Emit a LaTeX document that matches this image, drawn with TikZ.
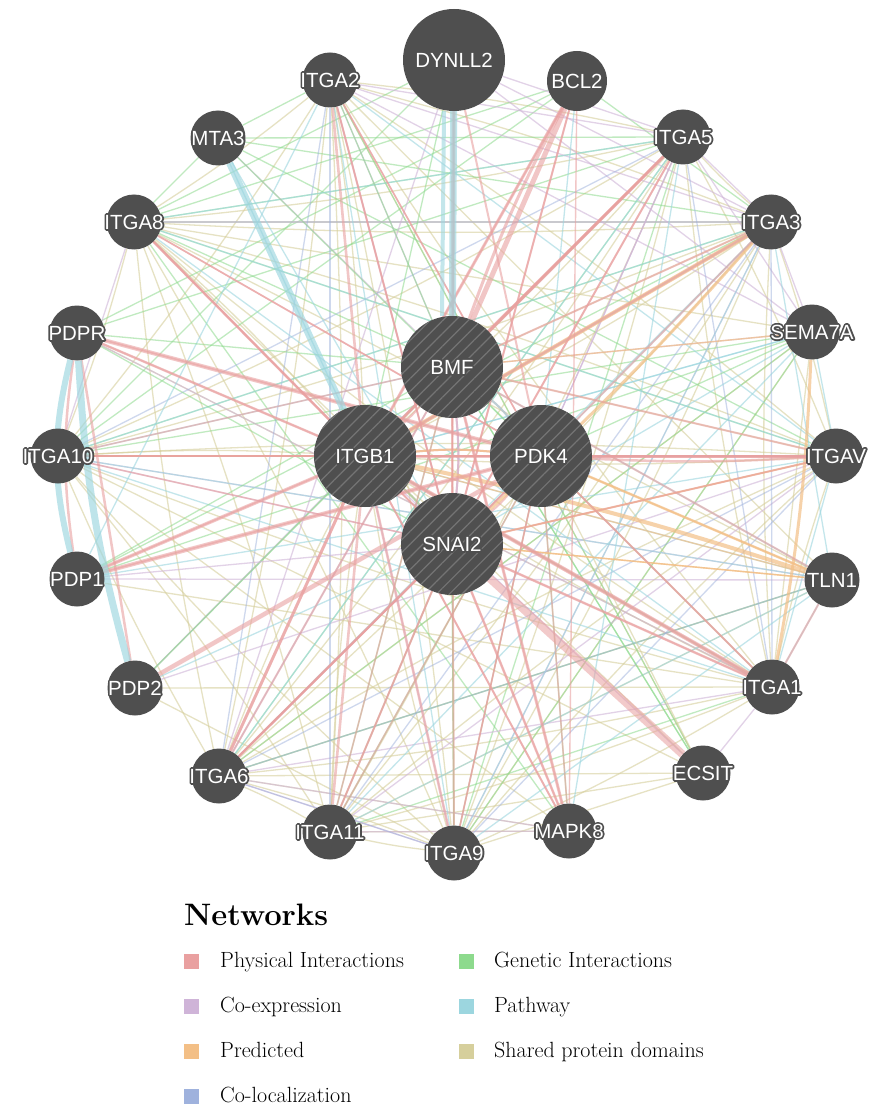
\documentclass[tikz,border=0pt]{standalone}
\usepackage{fontspec}
\newfontfamily\labfont{Liberation Sans}
\usetikzlibrary{patterns.meta}
\definecolor{nodegray}{HTML}{4F4F4F}
\definecolor{hatchgray}{HTML}{747474}
\definecolor{cPhys}{HTML}{E9A0A0}
\definecolor{cCoexp}{HTML}{CFB4D8}
\definecolor{cPred}{HTML}{F3BF86}
\definecolor{cColoc}{HTML}{9FB2DD}
\definecolor{cGen}{HTML}{8DDA8D}
\definecolor{cPath}{HTML}{9CD6DF}
\definecolor{cShared}{HTML}{D6CF9C}
\newcommand\glabel[1]{\makebox[0pt]{\rlap{\color{nodegray}\special{pdf:literal direct 1 Tr 3.5 w 1 j}#1\special{pdf:literal direct 0 Tr 1 w 0 j}}\color{white}#1}}
\pgfdeclarelayer{bglayer}
\pgfdeclarelayer{edgelayer}
\pgfsetlayers{bglayer,edgelayer,main}
\tikzset{
  gene/.style={circle, fill=nodegray, minimum size=55pt, inner sep=0pt, font=\labfont\fontsize{20.5}{20.5}\selectfont},
  biggene/.style={gene, minimum size=102pt},
  query/.style={biggene, postaction={pattern={Lines[angle=45,distance=9pt,line width=1.2pt]}, pattern color=hatchgray}},
  lw/.style={line width=#1},
  phys/.style={draw=cPhys, draw opacity=.6, line width=1.6pt},
  coexp/.style={draw=cCoexp, draw opacity=.6, line width=1.3pt},
  pred/.style={draw=cPred, draw opacity=.7, line width=1.4pt},
  coloc/.style={draw=cColoc, draw opacity=.5, line width=1.3pt},
  genet/.style={draw=cGen, draw opacity=.55, line width=1.3pt},
  pathw/.style={draw=cPath, draw opacity=.6, line width=1.3pt},
  shared/.style={draw=cShared, draw opacity=.6, line width=1.3pt},
  legsq/.style={rectangle, minimum size=15pt, inner sep=0pt},
  legtxt/.style={anchor=base west, font=\fontsize{22}{24}\selectfont, inner sep=0pt}
}
\begin{document}
\begin{tikzpicture}[x=1pt,y=-1pt]
\begin{pgfonlayer}{bglayer}
\fill[white] (0,0) rectangle (886,1107);
\end{pgfonlayer}
\useasboundingbox (0,0) rectangle (886,1107);
% ---------- genes ----------
\node[biggene] (dyn) at (454,60) {\glabel{DYNLL2}};
\node[gene, minimum size=60pt] (bcl) at (577,81) {\glabel{BCL2}};
\node[gene] (a2) at (330,80) {\glabel{ITGA2}};
\node[gene] (mta) at (218,138) {\glabel{MTA3}};
\node[gene] (a5) at (683,137) {\glabel{ITGA5}};
\node[gene] (a8) at (134,222) {\glabel{ITGA8}};
\node[gene] (a3) at (771,222) {\glabel{ITGA3}};
\node[gene] (pdpr) at (77,333) {\glabel{PDPR}};
\node[gene] (sema) at (812,332) {\glabel{SEMA7A}};
\node[gene] (a10) at (58,456) {\glabel{ITGA10}};
\node[gene] (av) at (836,456) {\glabel{ITGAV}};
\node[gene] (pdp1) at (77,579) {\glabel{PDP1}};
\node[gene] (tln) at (832,580) {\glabel{TLN1}};
\node[gene] (pdp2) at (135,688) {\glabel{PDP2}};
\node[gene] (a1) at (772,687) {\glabel{ITGA1}};
\node[gene] (a6) at (219,776) {\glabel{ITGA6}};
\node[gene] (ecs) at (703,773) {\glabel{ECSIT}};
\node[gene] (a11) at (330,832) {\glabel{ITGA11}};
\node[gene] (a9) at (454,853) {\glabel{ITGA9}};
\node[gene] (mapk) at (569,831) {\glabel{MAPK8}};
\node[query] (bmf) at (452,367) {\glabel{BMF}};
\node[query] (b1) at (365,456) {\glabel{ITGB1}};
\node[query] (pdk) at (541,456) {\glabel{PDK4}};
\node[query] (snai) at (452,544) {\glabel{SNAI2}};
% ---------- interactions ----------
\begin{pgfonlayer}{edgelayer}
% shared protein domains among integrins
\foreach \a [count=\i] in {a1,a2,a3,a5,a6,a8,a9,a10,a11,av,b1}{
  \foreach \b [count=\j] in {a1,a2,a3,a5,a6,a8,a9,a10,a11,av,b1}{
    \ifnum\j>\i \draw[shared] (\a) to[bend left=3] (\b); \fi
  }}
\foreach \a/\b in {sema/a1,sema/a6,sema/a9,tln/a6,tln/a8,tln/a11,ecs/a6,ecs/a11,ecs/a9,mapk/a6,mapk/a10,ecs/a2,sema/a8,tln/a2,pdp1/a1,pdp2/a9,pdpr/a1,mapk/a11,ecs/a8,pdp2/a1,a10/ecs}
  \draw[shared] (\a) -- (\b);
% genetic interactions
\foreach \a/\b in {mta/a2,mta/a8,mta/a3,a8/a5,a8/dyn,a8/a3,a10/a3,snai/a9,snai/a11,pdk/a9,bmf/ecs,a6/sema,a11/a1,pdp1/a3,a10/bcl,mapk/pdk,a5/a6,av/a8,tln/a6,pdp2/a5,dyn/a10,bcl/pdpr,bcl/a8,a2/ecs,mta/a5,pdpr/a5,a9/sema,b1/a1,a10/sema,mapk/a8,bcl/a3,mta/av,pdp1/sema,a9/a5}
  \draw[genet] (\a) -- (\b);
% co-expression
\foreach \a/\b in {a2/a3,a2/a5,a2/sema,a5/a3,a3/sema,a8/a3,a10/av,a6/a9,a6/mapk,a11/av,pdp1/tln,a2/bmf,a5/pdk,a1/ecs,dyn/a3,a2/snai,pdpr/a1,a10/tln,a8/a10,a5/sema,a3/a9,pdp2/av,a6/a1,dyn/a5,dyn/sema,dyn/a6,a11/mapk}
  \draw[coexp] (\a) -- (\b);
% co-localization
\foreach \a/\b in {a2/a6,a2/a11,a6/a9,a6/tln,a9/av,a3/a1,a5/a1,pdk/a6,a10/a5,a6/av,a11/a3}
  \draw[coloc] (\a) -- (\b);
% pathway (thin)
\foreach \a/\b in {a8/a5,a10/tln,a10/a3,pdp1/a2,av/a1,tln/a1,a6/a5,a9/a3,a11/sema,tln/a3,sema/av,a3/b1,a2/a9,a8/av,a10/av,b1/tln,pdp1/av,a11/tln,a9/tln,a6/a3,mapk/a5,a10/a1,sema/b1,a8/a1,a2/av}
  \draw[pathw] (\a) -- (\b);
% edges to the four query genes
\foreach \p/\s in {a2/genet,mta/coexp,a5/phys,a8/genet,a3/shared,pdpr/genet,sema/coexp,a10/pathw,av/shared,pdp1/genet,tln/pathw,pdp2/coexp,a1/genet,a6/coloc,ecs/genet,a11/genet,a9/shared,mapk/phys}
  \draw[\s] (\p) -- (bmf);
\foreach \p/\s in {dyn/genet,bcl/phys,mta/pathw,pdpr/phys,sema/pathw,pdp1/phys,tln/pred,pdp2/genet,ecs/coexp,mapk/phys,a5/pathw,a9/coexp}
  \draw[\s] (\p) -- (b1);
\foreach \p/\s in {a2/phys,a8/phys,a5/coexp,a3/pathw,sema/genet,av/phys,tln/pred,a1/phys,ecs/shared,mapk/phys,a9/phys,a11/genet,a6/phys,pdp1/phys,pdpr/phys,a10/phys,mta/genet,bcl/pathw}
  \draw[\s] (\p) -- (pdk);
\foreach \p/\s in {a2/phys,a8/phys,a5/phys,sema/pathw,av/pred,tln/pred,a1/phys,mapk/phys,a9/genet,a11/phys,a6/phys,pdp1/coexp,pdp2/pathw,pdpr/genet,a10/coexp,mta/pathw,bcl/phys,dyn/phys}
  \draw[\s] (\p) -- (snai);
% among the query genes
\foreach \a/\b/\s in {bmf/b1/phys,bmf/pdk/phys,b1/snai/phys,pdk/snai/phys,b1/pdk/phys,bmf/snai/phys,b1/pdk/pred,bmf/snai/coexp,b1/snai/genet,bmf/pdk/pathw}
  \draw[\s, lw=2pt] (\a) to[bend left=5] (\b);
% predicted
\foreach \a/\b in {a5/b1,av/snai,a10/pdk,sema/bmf,tln/snai}
  \draw[pred] (\a) -- (\b);
\draw[pred, lw=4pt] (a3) -- (b1);
\draw[pred, lw=3pt] (a3) to[bend left=3] (snai);
\draw[pred, lw=4pt] (tln) to[bend right=3] (b1);
\draw[pred, lw=2.5pt] (tln) -- (pdk);
\draw[pred, lw=3pt] (sema) to[bend left=4] (a1);
% physical interactions
\foreach \a in {a1,a2,a3,a5,a6,a8,a9,a10,a11,av}
  \draw[phys, lw=2.6pt] (b1) -- (\a);
\foreach \a/\b/\w in {bcl/bmf/5,bcl/b1/3,bcl/snai/2,dyn/bmf/4,dyn/pdk/2,dyn/snai/1.5,mapk/bmf/3,mapk/snai/2.5,mapk/b1/2,pdk/pdp1/4,pdk/pdp2/4.5,pdk/pdpr/4,pdp1/b1/3.5,pdpr/pdp2/2.5,a10/pdk/2,av/pdk/3,av/b1/3,a1/b1/4,a1/pdk/2,a1/tln/2,a5/bmf/2.5,a5/snai/2,a3/bmf/2,a8/snai/2,a6/bmf/2,a6/snai/2.5,a9/bmf/2,a2/snai/2,a2/pdk/1.5,tln/bmf/2,a11/snai/2,a5/b1/3,a6/pdk/2,a9/pdk/1.5,a1/snai/2.5,av/bmf/2,a10/bmf/1.6,pdpr/b1/2.5,a8/pdk/1.6,bcl/mapk/1.4,a11/pdk/1.6,a6/b1/3,a10/snai/1.6,av/snai/2,a3/pdk/2,a11/bmf/1.6}
  \draw[phys, lw=\w pt] (\a) -- (\b);
\draw[phys, lw=2.5pt] (pdpr) to[bend right=8] (pdp1);
\draw[phys, lw=8pt, draw opacity=.55] (snai) -- (ecs);
\draw[phys, lw=3pt] (bcl) to[bend right=4] (bmf);
\draw[phys, lw=2.5pt] (av) to[bend left=3] (pdk);
% pathway (thick)
\draw[pathw, lw=7pt, draw opacity=.65] (dyn) -- (bmf);
\draw[pathw, lw=4pt] ([xshift=-10pt]dyn.south) -- ([xshift=-10pt]bmf.north);
\draw[pathw, lw=7pt, draw opacity=.65] (mta) -- (b1);
\draw[pathw, lw=7pt, draw opacity=.65] (pdpr) to[bend right=6] (pdp2);
\draw[pathw, lw=6pt, draw opacity=.65] (pdpr) to[bend right=14] (pdp1);
\end{pgfonlayer}
% ---------- legend ----------
\node[anchor=base west, inner sep=0pt, font=\bfseries\fontsize{31}{34}\selectfont] (nettitle) at (184,925) {Networks};
\node[legsq, fill=cPhys] (sq1) at (191,961) {};
\node[legtxt] (t1) at (220,967) {Physical Interactions};
\node[legsq, fill=cCoexp] (sq2) at (191,1006) {};
\node[legtxt] (t2) at (220,1012) {Co-expression};
\node[legsq, fill=cPred] (sq3) at (191,1051) {};
\node[legtxt] (t3) at (220,1057) {Predicted};
\node[legsq, fill=cColoc] (sq4) at (191,1096) {};
\node[legtxt] (t4) at (220,1102) {Co-localization};
\node[legsq, fill=cGen] (sq5) at (466,961) {};
\node[legtxt] (t5) at (494,967) {Genetic Interactions};
\node[legsq, fill=cPath] (sq6) at (466,1006) {};
\node[legtxt] (t6) at (494,1012) {Pathway};
\node[legsq, fill=cShared] (sq7) at (466,1051) {};
\node[legtxt] (t7) at (494,1057) {Shared protein domains};
\end{tikzpicture}
\end{document}
